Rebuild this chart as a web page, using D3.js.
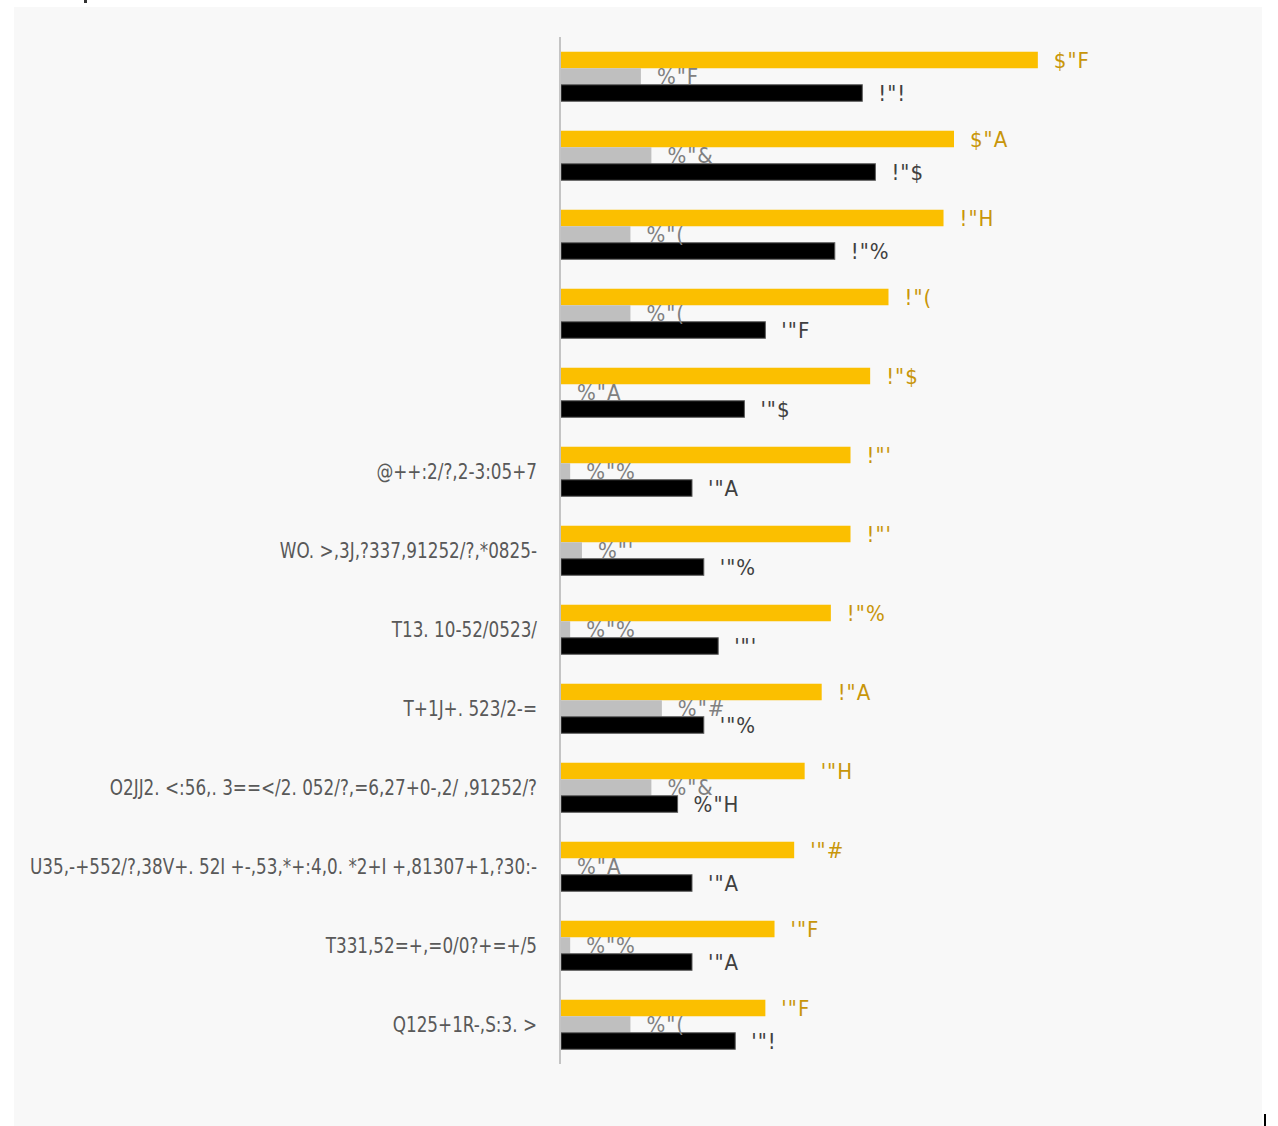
<!DOCTYPE html>
<html>
<head>
<meta charset="utf-8">
<script src="https://cdn.jsdelivr.net/npm/d3@7"></script>
<style>
  html, body { margin: 0; padding: 0; background: #ffffff; }
  svg { display: block; }
  .cat { font-family: "DejaVu Sans Condensed", "DejaVu Sans", sans-serif; font-stretch: condensed; }
  .val { font-family: "DejaVu Sans Condensed", "DejaVu Sans", sans-serif; font-stretch: condensed; }
</style>
</head>
<body>
<svg id="chart" width="1278" height="1126"></svg>
<script>
// ---- data ----
const categories = [
  "", "", "", "", "",
  "@++:2/?,2-3:05+7",
  "WO. >,3J,?337,91252/?,*0825-",
  "T13. 10-52/0523/",
  "T+1J+. 523/2-=",
  "O2JJ2. <:56,. 3==</2. 052/?,=6,27+0-,2/ ,91252/?",
  "U35,-+552/?,38V+. 52I +-,53,*+:4,0. *2+I +,81307+1,?30:-",
  "T331,52=+,=0/0?+=+/5",
  "Q125+1R-,S:3. >"
];
const seriesYellow = [4.64, 4.00, 3.92, 3.50, 3.36, 3.21, 3.21, 3.06, 2.99, 2.86, 2.78, 2.63, 2.56];
const seriesGray   = [1.61, 1.69, 1.53, 1.53, 1.00, 1.07, 1.16, 1.07, 1.77, 1.69, 1.00, 1.07, 1.53];
const seriesBlack  = [3.30, 3.40, 3.09, 2.56, 2.40, 2.00, 2.09, 2.20, 2.09, 1.89, 2.00, 2.00, 2.33];
// glyph substitution seen in the picture's number labels: digits 0-9 and the decimal point
const digitGlyphs = ["A", "%", "'", "!", "$", "(", "F", "&", "#", "H"];
const pointGlyph = '"';
const xDomain = [1, 5];

function encodeLabel(v) {
  return v.toFixed(1).split("").map(c => c === "." ? pointGlyph : digitGlyphs[+c]).join("");
}

const svg = d3.select("#chart");

// background panel
svg.append("rect").attr("x", 14).attr("y", 7).attr("width", 1248).attr("height", 1119).attr("fill", "#f8f8f8");

const x = d3.scaleLinear().domain(xDomain).range([561, 1085]);
const y = d3.scaleBand().domain(d3.range(categories.length)).range([37, 1064])
  .paddingInner(0.373).paddingOuter(0.1865);
const sub = d3.scaleBand().domain(["yellow", "gray", "black"]).range([0, y.bandwidth()]);

const series = [
  { key: "yellow", values: seriesYellow, fill: "#FBBF00", stroke: "none", label: "#C8960A" },
  { key: "gray",   values: seriesGray,   fill: "#BFBFBF", stroke: "none", label: "#808080" },
  { key: "black",  values: seriesBlack,  fill: "#000000", stroke: "#5a5a5a", label: "#404040" }
];

series.forEach(s => {
  const g = svg.append("g");
  g.selectAll("rect").data(s.values).join("rect")
    .attr("x", x(xDomain[0]))
    .attr("y", (d, i) => y(i) + sub(s.key))
    .attr("width", d => Math.max(0, x(d) - x(xDomain[0])))
    .attr("height", sub.bandwidth())
    .attr("fill", s.fill)
    .attr("stroke", s.stroke)
    .attr("stroke-width", s.stroke === "none" ? 0 : 1);
});

// value labels
series.forEach(s => {
  svg.append("g").selectAll("text").data(s.values).join("text")
    .attr("class", "val")
    .attr("x", d => x(d) + 16)
    .attr("y", (d, i) => y(i) + sub(s.key) + sub.bandwidth() / 2)
    .attr("dy", "0.36em")
    .attr("font-size", 22)
    .attr("letter-spacing", 1)
    .attr("fill", s.label)
    .text(d => encodeLabel(d));
});

// axis line
svg.append("line").attr("x1", 560).attr("x2", 560).attr("y1", 37).attr("y2", 1064)
  .attr("stroke", "#c4c4c4").attr("stroke-width", 2);

// category labels (narrow type, as in the reference)
svg.append("g").selectAll("text").data(categories).join("text")
  .attr("class", "cat")
  .attr("transform", (d, i) => `translate(537,${y(i) + y.bandwidth() / 2}) scale(0.85,1)`)
  .attr("dy", "0.36em")
  .attr("text-anchor", "end")
  .attr("font-size", 22)
  .attr("fill", "#595959")
  .text(d => d);

// small stray marks at the edges
svg.append("line").attr("x1", 1265).attr("x2", 1265).attr("y1", 1114).attr("y2", 1126)
  .attr("stroke", "#000").attr("stroke-width", 2);
svg.append("rect").attr("x", 84).attr("y", 0).attr("width", 3).attr("height", 3).attr("fill", "#333");
</script>
</body>
</html>
